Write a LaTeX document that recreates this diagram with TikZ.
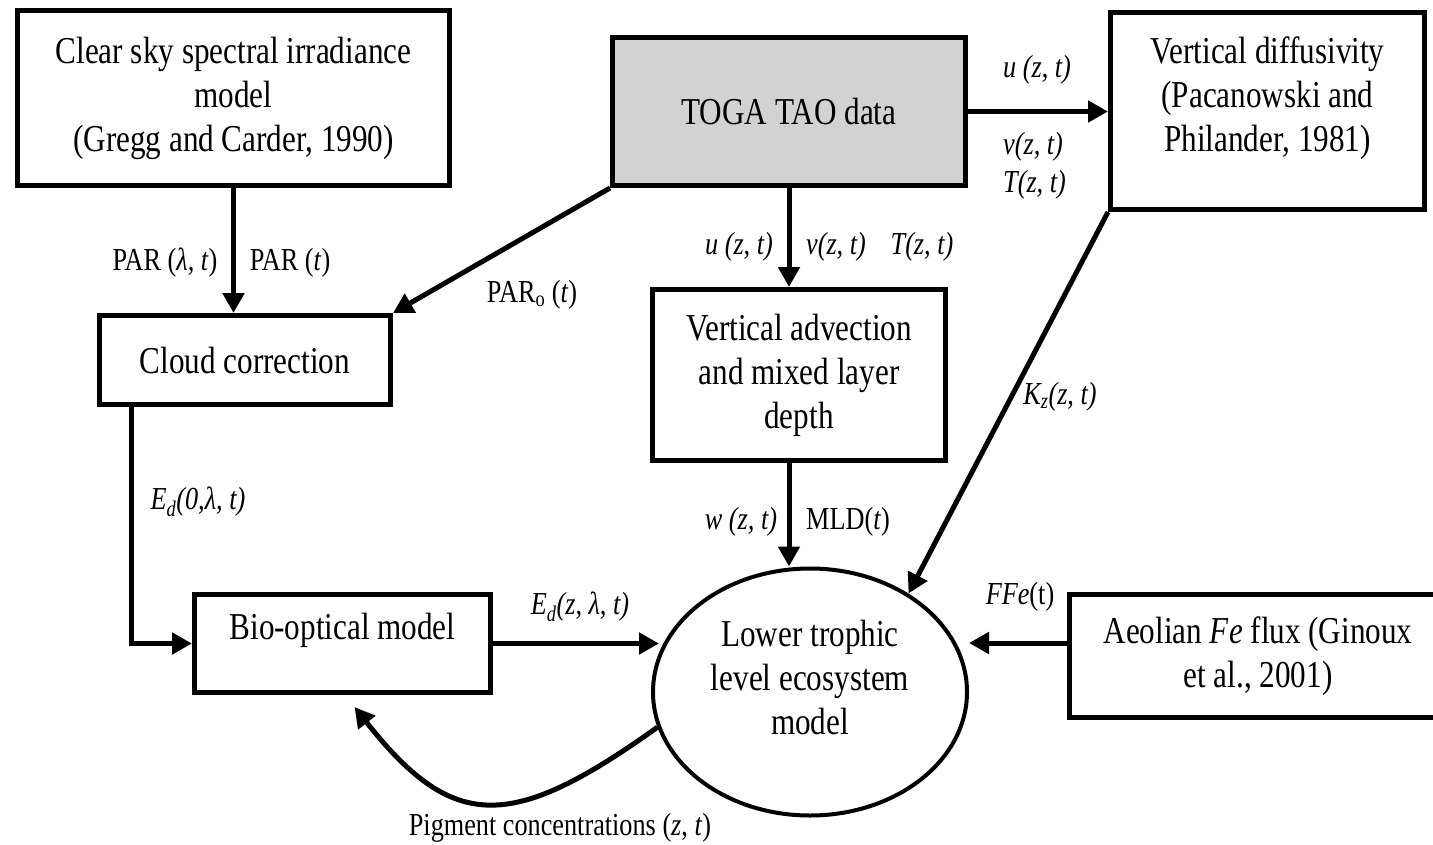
\documentclass[tikz,border=0pt]{standalone}
\usepackage{fontspec}
\setmainfont{Liberation Serif}[FakeStretch=0.82]
\usetikzlibrary{shapes,arrows.meta}
\tikzstyle{block} = [rectangle, draw, line width=5pt, align=center, font=\fontsize{38}{44}\selectfont]
\tikzstyle{datablock} = [block, fill=gray!35]
\tikzstyle{model} = [ellipse, draw, line width=4pt, align=center, font=\fontsize{38}{44}\selectfont]
\tikzstyle{line} = [draw, line width=5pt, -{Triangle[length=20pt, width=21pt]}]
\tikzstyle{lbl} = [inner sep=0pt, font=\fontsize{32}{36}\selectfont]

\begin{document}
\begin{tikzpicture}[x=1pt, y=-1pt]
\useasboundingbox (0, 0) rectangle (1433, 844);

% light and data
\node [block, minimum width=432pt, minimum height=175pt] at (233.5, 98) (clear) {Clear sky spectral irradiance\\model\\(Gregg and Carder, 1990)};
\node [datablock, minimum width=353pt, minimum height=148pt] at (789, 111.5) (toga) {TOGA TAO data};
\node [block, minimum width=314pt, minimum height=197pt] at (1267.5, 111) (diff) {\raisebox{12pt}[\height][\depth]{\begin{tabular}{@{}c@{}}Vertical diffusivity\\(Pacanowski and\\Philander, 1981)\end{tabular}}};

% intermediate models
\node [block, minimum width=291pt, minimum height=89pt] at (245, 360) (cloud) {Cloud correction};
\node [block, minimum width=293pt, minimum height=171pt] at (799, 375) (adv) {Vertical advection\\and mixed layer\\depth};
\node [block, minimum width=296pt, minimum height=98pt] at (342.5, 643.5) (bio) {\raisebox{13pt}[\height][\depth]{Bio-optical model}};
\node [model, minimum width=314pt, minimum height=247pt] at (810, 692) (eco) {\raisebox{10pt}[\height][\depth]{\begin{tabular}{@{}c@{}}Lower trophic\\level ecosystem\\model\end{tabular}}};
\node [block, minimum width=377pt, minimum height=123pt] at (1258, 656) (aeol) {Aeolian \textit{Fe} flux (Ginoux\\et al., 2001)};

% connectors
\path [line] (clear.south) -- (clear.south |- cloud.north);
\path [line] (toga.south west) -- (cloud.north east);
\path [line] (toga.south) -- (toga.south |- adv.north);
\path [line] (toga.east) -- (toga.east -| diff.west);
\path [line] ([xshift=34pt]cloud.south west) |- (bio.west);
\path [line] (bio.east) -- ([xshift=8pt]eco.west |- bio.east);
\path [line] ([xshift=-10pt]adv.south) -- ([xshift=-10pt]adv.south |- eco.north);
\path [line] (diff.south west) -- (eco.45);
\path [line] ([yshift=13pt]aeol.west) -- ([yshift=13pt]aeol.west -| eco.east);
\path [line] (eco.193) .. controls (511, 832) and (453, 832) .. ([xshift=12pt, yshift=-12pt]bio.south);

% labels
\node [lbl] at (165, 263) (parlt) {PAR (\textit{λ}, \textit{t})};
\node [lbl] at (290, 263) (part) {PAR (\textit{t})};
\node [lbl] at (532, 295) (paro) {PAR\textsubscript{o} (\textit{t})};
\node [lbl] at (739, 247) (uadv) {\textit{u (z, t)}};
\node [lbl] at (836, 247) (vadv) {\textit{v(z, t)}};
\node [lbl] at (922, 247) (tadv) {\textit{T(z, t)}};
\node [lbl, anchor=west] at (1003, 70) (udiff) {\textit{u (z, t)}};
\node [lbl, anchor=west] at (1003, 147) (vdiff) {\textit{v(z, t)}};
\node [lbl, anchor=west] at (1003, 185) (tdiff) {\textit{T(z, t)}};
\node [lbl] at (1060, 397) (kz) {\textit{K\textsubscript{z}(z, t)}};
\node [lbl] at (198, 502) (edzero) {\textit{E\textsubscript{d}(0,λ, t)}};
\node [lbl] at (580, 607) (edz) {\textit{E\textsubscript{d}(z, λ, t)}};
\node [lbl] at (741, 522) (wz) {\textit{w (z, t)}};
\node [lbl] at (848, 522) (mld) {MLD(\textit{t})};
\node [lbl] at (1020, 597) (ffe) {\textit{FFe}(t)};
\node [lbl] at (560, 828) (pigment) {Pigment concentrations (\textit{z}, \textit{t})};

\end{tikzpicture}
\end{document}
